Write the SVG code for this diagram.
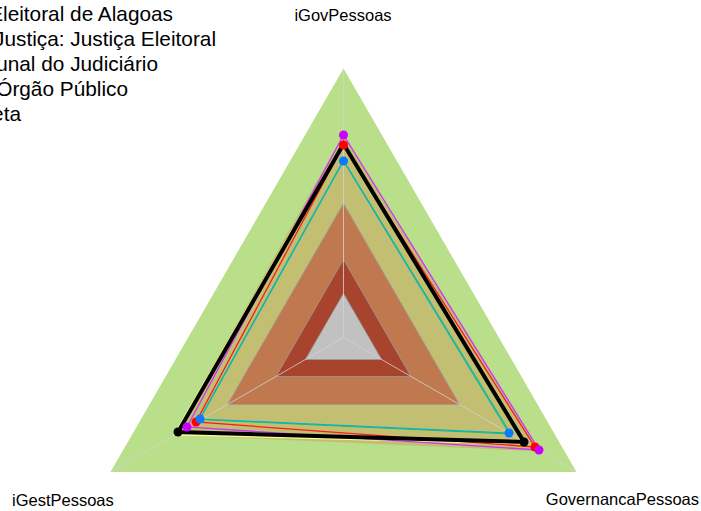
<svg xmlns="http://www.w3.org/2000/svg" width="701" height="511" viewBox="0 0 701 511">
<style>
.lbl{font-family:"Liberation Sans",Arial,sans-serif;fill:#000}
.leg{font-size:20.8px}
.ax{font-size:16.5px}
.ring{stroke:#9a9a9a;stroke-width:1;stroke-opacity:0.8}
.spoke{stroke:#d2d2d2;stroke-width:1;stroke-opacity:0.8;fill:none}
.ser{fill:none;stroke-linejoin:miter}
</style>
<rect width="701" height="511" fill="#ffffff"/>
<g id="bands">
<polygon points="343.5,68.5 110.5,472 576.5,472" fill="#b9df8b"/>
<polygon points="343.5,134 174,435 541,451.5" fill="#c2bf72"/>
<polygon class="ring" points="343.5,203.5 227.5,404.5 459.5,404.5" fill="#c0794f"/>
<polygon class="ring" points="343.5,259.5 276,376.5 411,376.5" fill="#a8432d"/>
<polygon class="ring" points="343.5,293.5 305.4,359.5 381.6,359.5" fill="#c1c1c1"/>
</g>
<g id="spokes">
<line class="spoke" x1="343.5" y1="337.5" x2="343.5" y2="68.5"/>
<line class="spoke" x1="343.5" y1="337.5" x2="110.5" y2="472"/>
<line class="spoke" x1="343.5" y1="337.5" x2="576.5" y2="472"/>
</g>
<g id="series">
<polygon class="ser" points="343.5,160 199,419.5 511,434" stroke="#2ac04a" stroke-width="1"/>
<polygon class="ser" points="343.5,161 200,419 509,433" stroke="#00b4cc" stroke-width="1.2"/>
<polygon class="ser" points="343.5,143 175.5,434 524,443" stroke="#ffff8c" stroke-width="3"/>
<polygon class="ser" points="343.5,145 196,422 535,447" stroke="#ff1a1a" stroke-width="1.3"/>
<polygon class="ser" points="343.5,135 187,427 539,450" stroke="#cc33ff" stroke-width="1.3"/>
<polygon class="ser" points="343.5,144 178,432 524,442" stroke="#000000" stroke-width="4"/>
<g fill="#000000"><circle cx="178" cy="432" r="4.5"/><circle cx="524" cy="442" r="4.5"/></g>
<g fill="#ff0000"><circle cx="343.5" cy="145" r="4.5"/><circle cx="196" cy="422" r="4.5"/><circle cx="535" cy="447" r="4.5"/></g>
<g fill="#cc00ff"><circle cx="343.5" cy="135" r="4.5"/><circle cx="187" cy="427" r="4.5"/><circle cx="539" cy="450" r="4.5"/></g>
<g fill="#0a78ff"><circle cx="343.5" cy="161" r="4.5"/><circle cx="200" cy="419" r="4.5"/><circle cx="509" cy="433" r="4.5"/></g>
</g>
<g id="axis-labels" class="lbl ax">
<text x="343" y="21" text-anchor="middle">iGovPessoas</text>
<text x="12" y="506">iGestPessoas</text>
<text x="699" y="505" text-anchor="end">GovernancaPessoas</text>
</g>
<g id="legend" class="lbl leg">
<text x="173" y="21" text-anchor="end">Eleitoral de Alagoas</text>
<text x="216" y="46" text-anchor="end">Justiça: Justiça Eleitoral</text>
<text x="158" y="71" text-anchor="end">Tribunal do Judiciário</text>
<text x="128" y="96" text-anchor="end">Órgão Público</text>
<text x="21" y="121" text-anchor="end">Meta</text>
</g>
</svg>
